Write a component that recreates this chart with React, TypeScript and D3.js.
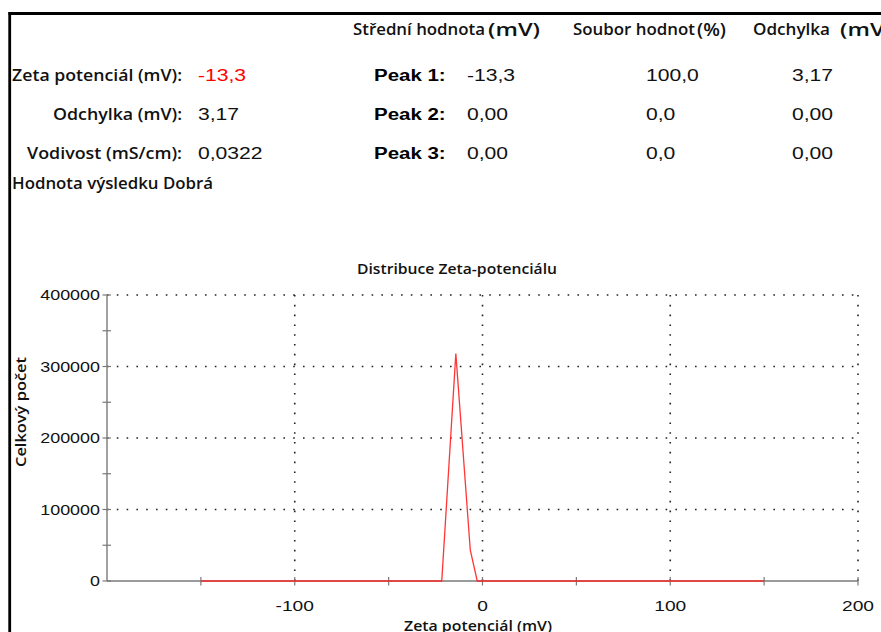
import React from 'react';
import * as d3 from 'd3';

// ---- data ----
const zetaMv = [-150, -21.7, -14.2, -6.5, -2.8, 150];
const totalCounts = [0, 0, 318000, 43000, 0, 0];
const xTicks = [-150, -100, -50, 0, 50, 100, 150, 200];
const xTickLabels = [-100, 0, 100, 200];
const xGridValues = [-100, 0, 100, 200];
const yTicks = [0, 50000, 100000, 150000, 200000, 250000, 300000, 350000, 400000];
const yTickLabels = [0, 100000, 200000, 300000, 400000];
const headerLabels = ['Střední hodnota', 'Soubor hodnot', 'Odchylka'];
const headerUnits = ['(mV)', '(%)', '(mV)'];
const summaryLabels = ['Zeta potenciál (mV):', 'Odchylka (mV):', 'Vodivost (mS/cm):'];
const summaryValues = ['-13,3', '3,17', '0,0322'];
const peakLabels = ['Peak 1:', 'Peak 2:', 'Peak 3:'];
const peakMeans = ['-13,3', '0,00', '0,00'];
const peakAreas = ['100,0', '0,0', '0,0'];
const peakWidths = ['3,17', '0,00', '0,00'];
const qualityText = 'Hodnota výsledku Dobrá';
const chartTitle = 'Distribuce Zeta-potenciálu';
const xAxisLabel = 'Zeta potenciál (mV)';
const yAxisLabel = 'Celkový počet';

// ---- layout ----
const W = 881;
const H = 632;
const SX = 1.28;
const CAL = "'Open Sans', 'Noto Sans', sans-serif";
const ARIAL = "'Liberation Sans', Arial, sans-serif";
const headerX = [353, 573, 753];
const headerLen = [132, 122, 77];
const unitX = [488, 697, 840];
const unitLen = [52, 29, 52];
const rowY = [81, 119.5, 158.5];
const summaryLen = [170, 129, 155];
const peakColX = [467, 646, 792];

function Stretched({ x, y, anchor = 'start', size, weight = 'normal', fill = '#000', family = ARIAL, children }: any) {
  return (
    <text
      transform={`translate(${x},${y}) scale(${SX},1)`}
      textAnchor={anchor}
      fontSize={size}
      fontWeight={weight}
      fill={fill}
      fontFamily={family}
    >
      {children}
    </text>
  );
}

export default function App() {
  const x = d3.scaleLinear().domain([-200, 200]).range([107, 858]);
  const y = d3.scaleLinear().domain([0, 400000]).range([581, 295]);
  const pts = zetaMv.map((v, i) => [v, totalCounts[i]] as [number, number]);
  const line = d3
    .line<[number, number]>()
    .x((d) => x(d[0]))
    .y((d) => y(d[1]));

  return (
    <>
      <style>{'body{margin:0}'}</style>
      <svg width={W} height={H} style={{ display: 'block', background: '#fff' }}>
        <rect x={0} y={0} width={W} height={H} fill="#fff" />
        {/* frame */}
        <line x1={8.5} x2={W} y1={13.5} y2={13.5} stroke="#000" strokeWidth={3} />
        <line x1={9.7} x2={9.7} y1={12} y2={H} stroke="#000" strokeWidth={2.8} />

        {/* header */}
        {headerLabels.map((t, i) => (
          <text key={'h' + i} x={headerX[i]} y={35} fontFamily={CAL} fontSize={16} fontWeight={600}
            textLength={headerLen[i]} lengthAdjust="spacingAndGlyphs" fill="#111">{t}</text>
        ))}
        {headerUnits.map((t, i) => (
          <text key={'u' + i} x={unitX[i]} y={36} fontFamily={CAL} fontSize={18} fontWeight={600}
            textLength={unitLen[i]} lengthAdjust="spacingAndGlyphs" fill="#111">{t}</text>
        ))}

        {/* summary */}
        {summaryLabels.map((t, i) => (
          <text key={'s' + i} x={182} y={rowY[i]} textAnchor="end" fontFamily={CAL} fontSize={15.5} fontWeight={600}
            textLength={summaryLen[i]} lengthAdjust="spacingAndGlyphs" fill="#111">{t}</text>
        ))}
        {summaryValues.map((t, i) => (
          <Stretched key={'sv' + i} x={198} y={rowY[i]} size={16.5} fill={i === 0 ? '#ff0000' : '#111'}>{t}</Stretched>
        ))}
        <text x={12} y={188.5} fontFamily={CAL} fontSize={15.5} fontWeight={600} textLength={201}
          lengthAdjust="spacingAndGlyphs" fill="#111">{qualityText}</text>

        {/* peaks */}
        {peakLabels.map((t, i) => (
          <Stretched key={'p' + i} x={374} y={rowY[i]} size={16} weight="bold">{t}</Stretched>
        ))}
        {peakMeans.map((t, i) => (
          <Stretched key={'pm' + i} x={peakColX[0]} y={rowY[i]} size={16.5} fill="#111">{t}</Stretched>
        ))}
        {peakAreas.map((t, i) => (
          <Stretched key={'pa' + i} x={peakColX[1]} y={rowY[i]} size={16.5} fill="#111">{t}</Stretched>
        ))}
        {peakWidths.map((t, i) => (
          <Stretched key={'pw' + i} x={peakColX[2]} y={rowY[i]} size={16.5} fill="#111">{t}</Stretched>
        ))}

        {/* chart title */}
        <text x={357} y={274} fontFamily={CAL} fontSize={14.5} fontWeight={600} textLength={200}
          lengthAdjust="spacingAndGlyphs" fill="#111">{chartTitle}</text>

        {/* grid */}
        {yTickLabels.filter((v) => v > 0).map((v) => (
          <line key={'gy' + v} x1={x(-200)} x2={x(200)} y1={y(v)} y2={y(v)}
            stroke="#222" strokeWidth={1.6} strokeDasharray="1.6 8.2" />
        ))}
        {xGridValues.map((v) => (
          <line key={'gx' + v} x1={x(v)} x2={x(v)} y1={y(400000)} y2={y(0)}
            stroke="#222" strokeWidth={1.6} strokeDasharray="1.6 8.2" />
        ))}

        {/* axes */}
        <line x1={x(-200)} x2={x(-200)} y1={y(400000)} y2={y(0)} stroke="#7a7a7a" strokeWidth={1.4} />
        <line x1={x(-200)} x2={x(200)} y1={y(0)} y2={y(0)} stroke="#7a7a7a" strokeWidth={1.6} />
        {yTicks.map((v) => (
          <line key={'yt' + v} x1={x(-200) - 4.5} x2={x(-200) + 4} y1={y(v)} y2={y(v)} stroke="#7a7a7a" strokeWidth={1.2} />
        ))}
        {xTicks.map((v) => (
          <line key={'xt' + v} x1={x(v)} x2={x(v)} y1={y(0) - 4} y2={y(0) + 4.5} stroke="#7a7a7a" strokeWidth={1.2} />
        ))}
        {yTickLabels.map((v) => (
          <Stretched key={'yl' + v} x={100} y={y(v) + 5} anchor="end" size={14} fill="#111">{String(v)}</Stretched>
        ))}
        {xTickLabels.map((v) => (
          <Stretched key={'xl' + v} x={x(v)} y={611} anchor="middle" size={15} fill="#111">{String(v)}</Stretched>
        ))}

        {/* axis labels */}
        <text transform={`translate(26,412) rotate(-90)`} textAnchor="middle" fontFamily={CAL} fontSize={14.5} fontWeight={600}
          textLength={110} lengthAdjust="spacingAndGlyphs" fill="#111">{yAxisLabel}</text>
        <text x={478} y={630.5} textAnchor="middle" fontFamily={CAL} fontSize={14.5} fontWeight={600}
          textLength={148} lengthAdjust="spacingAndGlyphs" fill="#111">{xAxisLabel}</text>

        {/* series */}
        <path d={line(pts) || ''} fill="none" stroke="#ff2020" strokeWidth={1.3} strokeOpacity={0.9} />
      </svg>
    </>
  );
}
